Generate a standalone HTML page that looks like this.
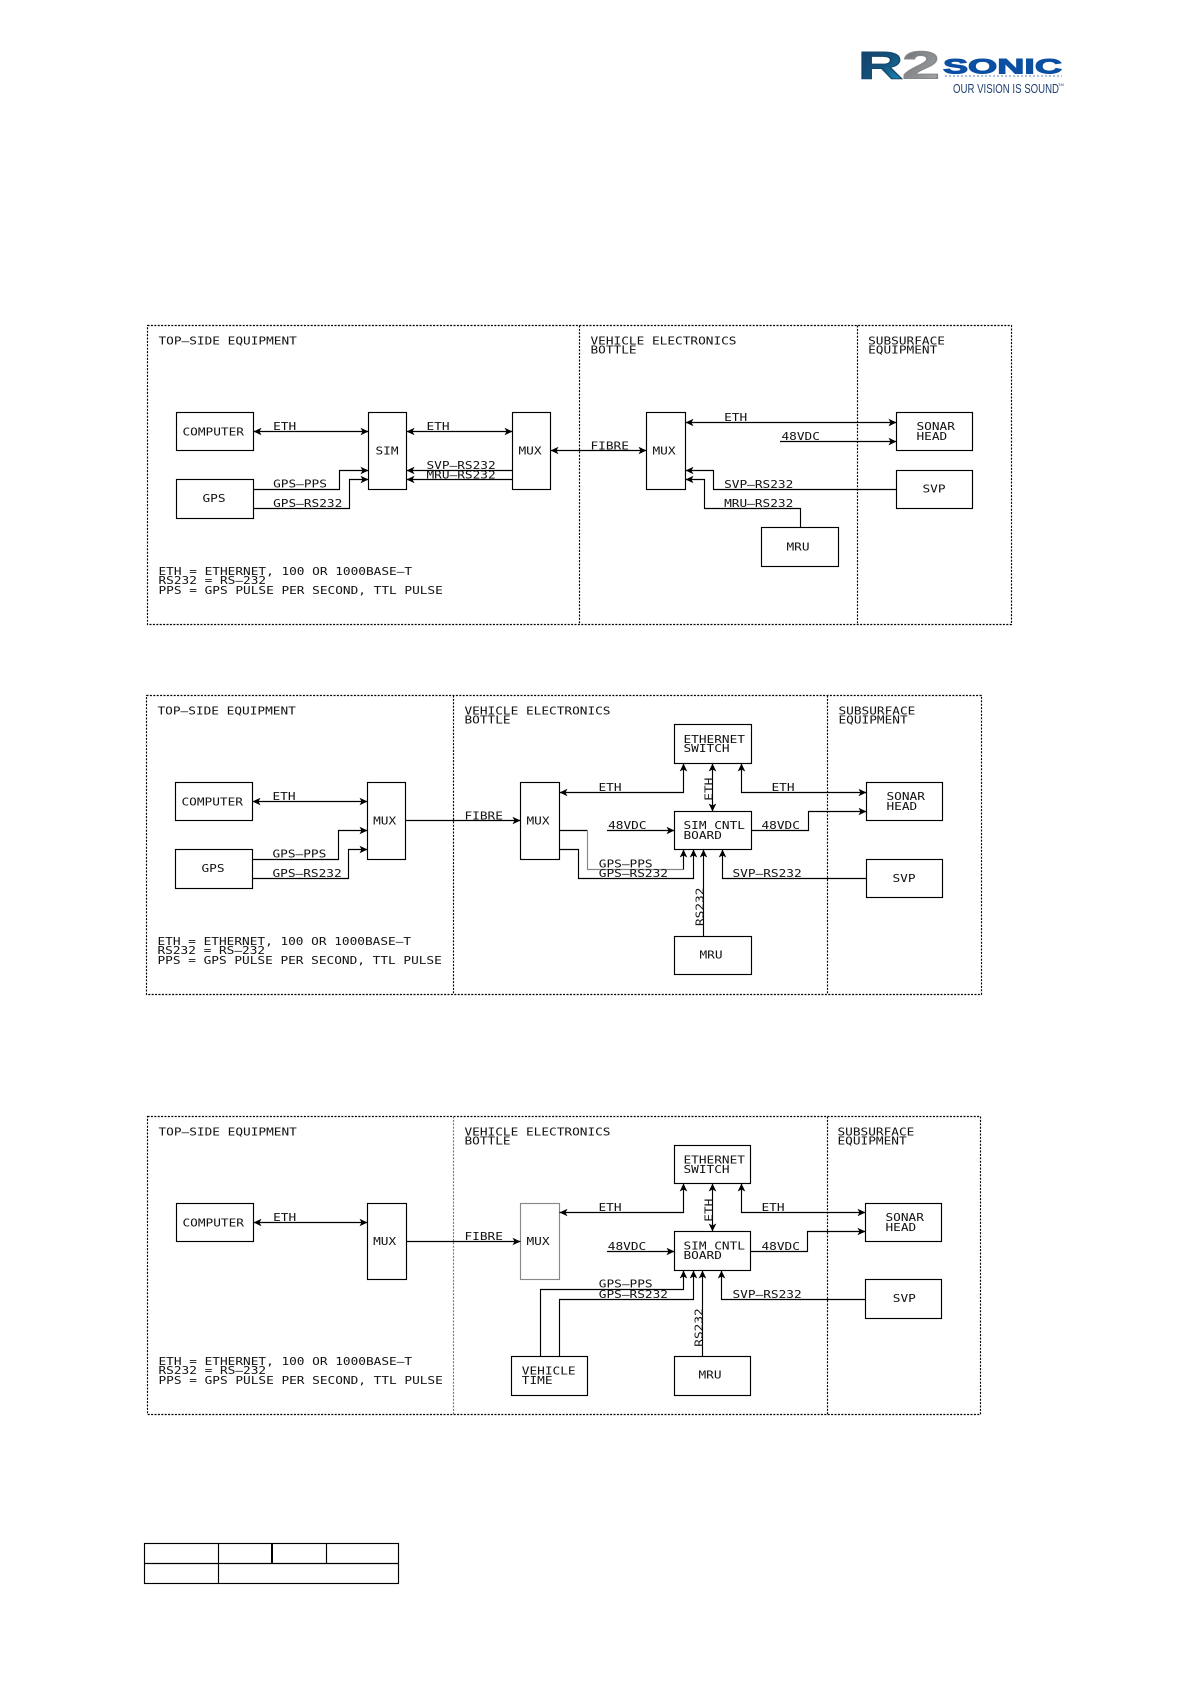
<!DOCTYPE html>
<html lang="en">
<head>
<meta charset="utf-8">
<title>R2Sonic system block diagrams</title>
<style>
html,body{margin:0;padding:0;background:#fff}
svg{display:block}
text{font-family:"DejaVu Sans Mono","Liberation Mono",monospace;font-size:10.3px;fill:#111}
.l{fill:none;stroke:#000;stroke-width:1.15}
.b{fill:#fff;stroke:#000;stroke-width:1.15}
.g{stroke:#888}
.d{fill:none;stroke:#000;stroke-width:1.15;stroke-dasharray:2 1.4}
.dg{stroke:#777}
.a{marker-end:url(#ah)}
.aa{marker-start:url(#ah);marker-end:url(#ah)}
.t{fill:none;stroke:#000;stroke-width:1.15}
</style>
</head>
<body>
<svg xmlns="http://www.w3.org/2000/svg" width="1191" height="1684" viewBox="0 0 1191 1684">
<defs>
<marker id="ah" markerUnits="userSpaceOnUse" markerWidth="12" markerHeight="12" refX="8" refY="6" orient="auto-start-reverse" overflow="visible">
<polygon points="0,2.2 8,6 0,9.8 2,6" fill="#000"/>
</marker>
<linearGradient id="rg" x1="0" y1="0" x2="1" y2="1">
<stop offset="0" stop-color="#123a63"/><stop offset=".55" stop-color="#13557f"/><stop offset="1" stop-color="#1aa0c8"/>
</linearGradient>
<linearGradient id="tg" x1="0" y1="0" x2="1" y2="1">
<stop offset="0" stop-color="#6c6f72"/><stop offset="1" stop-color="#a8aaac"/>
</linearGradient>
</defs>

<!-- Logo -->
<text x="858" y="78.5" textLength="45" lengthAdjust="spacingAndGlyphs" style="font-family:'Liberation Sans',sans-serif;font-weight:700;font-size:38.5px;fill:url(#rg);stroke:#13476f;stroke-width:1">R</text>
<text x="902" y="78.5" textLength="38" lengthAdjust="spacingAndGlyphs" style="font-family:'Liberation Sans',sans-serif;font-weight:700;font-size:38.5px;fill:url(#tg);stroke:#85878a;stroke-width:1">2</text>
<text x="943" y="73.5" textLength="119" lengthAdjust="spacingAndGlyphs" style="font-family:'Liberation Sans',sans-serif;font-weight:700;font-size:21px;fill:#0b4fa3;stroke:#0b4fa3;stroke-width:1">SONIC</text>
<path d="M945 76H1062" stroke="#5b87bd" stroke-width="1" stroke-dasharray="2 2" fill="none"/>
<text x="953" y="93" textLength="106" lengthAdjust="spacingAndGlyphs" style="font-family:'Liberation Sans',sans-serif;font-size:12.6px;fill:#1f3f70">OUR VISION IS SOUND</text>
<text x="1058" y="86" style="font-family:'Liberation Sans',sans-serif;font-size:4px;fill:#1f3f70">TM</text>

<!-- Diagram 1 -->
<rect class="d" x="147.5" y="325.5" width="864" height="299"/>
<path class="d" d="M579.5 325.5V624.5M857.5 325.5V624.5"/>
<rect class="b" x="176.5" y="412.5" width="77" height="38"/>
<rect class="b" x="176.5" y="479.5" width="77" height="39"/>
<rect class="b" x="368.5" y="412.5" width="38" height="77"/>
<rect class="b" x="512.5" y="412.5" width="38" height="77"/>
<rect class="b" x="646.5" y="412.5" width="39" height="77"/>
<rect class="b" x="896.5" y="412.5" width="76" height="38"/>
<rect class="b" x="896.5" y="470.5" width="76" height="38"/>
<rect class="b" x="761.5" y="527.5" width="77" height="39"/>
<path class="l aa" d="M253.5 431.5H368.5"/>
<path class="l aa" d="M406.5 431.5H512.5"/>
<path class="l aa" d="M550.5 450.5H646.5"/>
<path class="l a" d="M512.5 470.5H406.5"/>
<path class="l a" d="M512.5 479.5H406.5"/>
<path class="l a" d="M253.5 489.5H339.5V470.5H368.5"/>
<path class="l a" d="M253.5 508.5H349.5V479.5H368.5"/>
<path class="l aa" d="M685.5 422.5H896.5"/>
<path class="l a" d="M780 441.5H896.5"/>
<path class="l a" d="M896.5 489.5H713.5V470.5H685.5"/>
<path class="l a" d="M800.5 527.5V508.5H704.5V479.5H685.5"/>
<g transform="translate(-.2 0)">
<text transform="translate(158.7 344.3)scale(1.24 1)">TOP—SIDE EQUIPMENT</text>
<text transform="translate(590.7 344.3)scale(1.24 1)">VEHICLE ELECTRONICS</text>
<text transform="translate(590.7 353.3)scale(1.24 1)">BOTTLE</text>
<text transform="translate(868.3 344.3)scale(1.24 1)">SUBSURFACE</text>
<text transform="translate(868.3 353.3)scale(1.24 1)">EQUIPMENT</text>
<text transform="translate(182.7 435.3)scale(1.24 1)">COMPUTER</text>
<text transform="translate(202.7 502)scale(1.24 1)">GPS</text>
<text transform="translate(375.7 454.3)scale(1.24 1)">SIM</text>
<text transform="translate(518.7 454.3)scale(1.24 1)">MUX</text>
<text transform="translate(652.7 454.3)scale(1.24 1)">MUX</text>
<text transform="translate(273.3 430)scale(1.24 1)">ETH</text>
<text transform="translate(426.7 430)scale(1.24 1)">ETH</text>
<text transform="translate(426.7 469)scale(1.24 1)">SVP—RS232</text>
<text transform="translate(426.7 478.3)scale(1.24 1)">MRU—RS232</text>
<text transform="translate(273.3 487.7)scale(1.24 1)">GPS—PPS</text>
<text transform="translate(273.3 507)scale(1.24 1)">GPS—RS232</text>
<text transform="translate(590.7 449.7)scale(1.24 1)">FIBRE</text>
<text transform="translate(724.3 421)scale(1.24 1)">ETH</text>
<text transform="translate(781.7 440)scale(1.24 1)">48VDC</text>
<text transform="translate(724.3 488)scale(1.24 1)">SVP—RS232</text>
<text transform="translate(724.3 507)scale(1.24 1)">MRU—RS232</text>
<text transform="translate(916.7 430)scale(1.24 1)">SONAR</text>
<text transform="translate(916.7 440)scale(1.24 1)">HEAD</text>
<text transform="translate(922.7 492.7)scale(1.24 1)">SVP</text>
<text transform="translate(786.7 550.3)scale(1.24 1)">MRU</text>
<text transform="translate(158.7 575)scale(1.24 1)">ETH = ETHERNET, 100 OR 1000BASE—T</text>
<text transform="translate(158.7 584)scale(1.24 1)">RS232 = RS—232</text>
<text transform="translate(158.7 594)scale(1.24 1)">PPS = GPS PULSE PER SECOND, TTL PULSE</text>
</g>

<!-- Diagram 2 -->
<rect class="d" x="146.5" y="695.5" width="835" height="299"/>
<path class="d" d="M453.5 695.5V994.5M827.5 695.5V994.5"/>
<rect class="b" x="175.5" y="782.5" width="77" height="38"/>
<rect class="b" x="175.5" y="849.5" width="77" height="39"/>
<rect class="b" x="367.5" y="782.5" width="38" height="77"/>
<rect class="b" x="520.5" y="782.5" width="39" height="77"/>
<rect class="b" x="674.5" y="724.5" width="77" height="39"/>
<rect class="b" x="674.5" y="811.5" width="77" height="38"/>
<rect class="b" x="674.5" y="936.5" width="77" height="38"/>
<rect class="b" x="866.5" y="782.5" width="76" height="38"/>
<rect class="b" x="866.5" y="859.5" width="76" height="38"/>
<path class="l aa" d="M252.5 801.5H367.5"/>
<path class="l a" d="M252.5 859.5H338.5V830.5H367.5"/>
<path class="l a" d="M252.5 878.5H348.5V849.5H367.5"/>
<path class="l a" d="M405.5 820.5H520.5"/>
<path class="l" d="M559.5 830.5H587.5"/>
<path class="l g" d="M587.5 830.5V869.5H683.5"/>
<path class="l a" d="M683.5 869.5V849.5"/>
<path class="l a" d="M559.5 849.5H578.5V878.5H693.5V849.5"/>
<path class="l aa" d="M559.5 792.5H683.5V763.5"/>
<path class="l aa" d="M712.5 763.5V811.5"/>
<path class="l aa" d="M741.5 763.5V792.5H866.5"/>
<path class="l a" d="M607 830.5H674.5"/>
<path class="l a" d="M751.5 830.5H808.5V811.5H866.5"/>
<path class="l a" d="M866.5 878.5H722.5V849.5"/>
<path class="l a" d="M703.5 936.5V849.5"/>
<g transform="translate(-.2 0)">
<text transform="translate(157.7 714.3)scale(1.24 1)">TOP—SIDE EQUIPMENT</text>
<text transform="translate(464.7 714.3)scale(1.24 1)">VEHICLE ELECTRONICS</text>
<text transform="translate(464.7 723.3)scale(1.24 1)">BOTTLE</text>
<text transform="translate(838.7 714.3)scale(1.24 1)">SUBSURFACE</text>
<text transform="translate(838.7 723.3)scale(1.24 1)">EQUIPMENT</text>
<text transform="translate(181.7 805.3)scale(1.24 1)">COMPUTER</text>
<text transform="translate(201.7 872)scale(1.24 1)">GPS</text>
<text transform="translate(373.3 824.3)scale(1.24 1)">MUX</text>
<text transform="translate(526.7 824.3)scale(1.24 1)">MUX</text>
<text transform="translate(272.7 800)scale(1.24 1)">ETH</text>
<text transform="translate(272.7 857.7)scale(1.24 1)">GPS—PPS</text>
<text transform="translate(272.7 877)scale(1.24 1)">GPS—RS232</text>
<text transform="translate(464.7 819.7)scale(1.24 1)">FIBRE</text>
<text transform="translate(683.7 743)scale(1.24 1)">ETHERNET</text>
<text transform="translate(683.7 752)scale(1.24 1)">SWITCH</text>
<text transform="translate(683.7 829)scale(1.24 1)">SIM CNTL</text>
<text transform="translate(683.7 839)scale(1.24 1)">BOARD</text>
<text transform="translate(598.7 791)scale(1.24 1)">ETH</text>
<text transform="translate(771.7 791)scale(1.24 1)">ETH</text>
<text transform="translate(712.5 800.7)rotate(-90)scale(1.24 1)">ETH</text>
<text transform="translate(703.5 926)rotate(-90)scale(1.24 1)">RS232</text>
<text transform="translate(608.3 829)scale(1.24 1)">48VDC</text>
<text transform="translate(761.7 829)scale(1.24 1)">48VDC</text>
<text transform="translate(599 867.7)scale(1.24 1)">GPS—PPS</text>
<text transform="translate(599 877)scale(1.24 1)">GPS—RS232</text>
<text transform="translate(732.7 877)scale(1.24 1)">SVP—RS232</text>
<text transform="translate(886.7 800)scale(1.24 1)">SONAR</text>
<text transform="translate(886.7 810)scale(1.24 1)">HEAD</text>
<text transform="translate(892.7 882)scale(1.24 1)">SVP</text>
<text transform="translate(699.7 958.7)scale(1.24 1)">MRU</text>
<text transform="translate(157.7 945)scale(1.24 1)">ETH = ETHERNET, 100 OR 1000BASE—T</text>
<text transform="translate(157.7 954)scale(1.24 1)">RS232 = RS—232</text>
<text transform="translate(157.7 964)scale(1.24 1)">PPS = GPS PULSE PER SECOND, TTL PULSE</text>
</g>

<!-- Diagram 3 -->
<rect class="d" x="147.5" y="1116.5" width="833" height="298"/>
<path class="d dg" d="M453.5 1116.5V1414.5"/>
<path class="d" d="M827.5 1116.5V1414.5"/>
<rect class="b" x="176.5" y="1203.5" width="77" height="38"/>
<rect class="b" x="367.5" y="1203.5" width="39" height="76"/>
<rect class="b g" x="520.5" y="1203.5" width="39" height="76"/>
<rect class="b" x="511.5" y="1356.5" width="76" height="39"/>
<rect class="b" x="674.5" y="1145.5" width="76" height="38"/>
<rect class="b" x="674.5" y="1231.5" width="76" height="39"/>
<rect class="b" x="674.5" y="1356.5" width="76" height="39"/>
<rect class="b" x="865.5" y="1203.5" width="76" height="38"/>
<rect class="b" x="865.5" y="1279.5" width="76" height="39"/>
<path class="l aa" d="M253.5 1222.5H367.5"/>
<path class="l a" d="M406.5 1241.5H520.5"/>
<path class="l a" d="M540.5 1356.5V1289.5H683.5V1270.5"/>
<path class="l a" d="M559.5 1356.5V1299.5H693.5V1270.5"/>
<path class="l aa" d="M559.5 1212.5H683.5V1183.5"/>
<path class="l aa" d="M712.5 1183.5V1231.5"/>
<path class="l aa" d="M741.5 1183.5V1212.5H865.5"/>
<path class="l a" d="M607 1251.5H674.5"/>
<path class="l a" d="M750.5 1251.5H807.5V1231.5H865.5"/>
<path class="l a" d="M865.5 1299.5H721.5V1270.5"/>
<path class="l a" d="M702.5 1356.5V1270.5"/>
<g transform="translate(-.2 0)">
<text transform="translate(158.7 1135.3)scale(1.24 1)">TOP—SIDE EQUIPMENT</text>
<text transform="translate(464.7 1135.3)scale(1.24 1)">VEHICLE ELECTRONICS</text>
<text transform="translate(464.7 1144.3)scale(1.24 1)">BOTTLE</text>
<text transform="translate(837.7 1135.3)scale(1.24 1)">SUBSURFACE</text>
<text transform="translate(837.7 1144.3)scale(1.24 1)">EQUIPMENT</text>
<text transform="translate(182.7 1226.3)scale(1.24 1)">COMPUTER</text>
<text transform="translate(373.3 1245)scale(1.24 1)">MUX</text>
<text transform="translate(526.7 1245)scale(1.24 1)">MUX</text>
<text transform="translate(273.3 1221)scale(1.24 1)">ETH</text>
<text transform="translate(464.7 1240)scale(1.24 1)">FIBRE</text>
<text transform="translate(522 1374.3)scale(1.24 1)">VEHICLE</text>
<text transform="translate(522 1384)scale(1.24 1)">TIME</text>
<text transform="translate(683.7 1163.7)scale(1.24 1)">ETHERNET</text>
<text transform="translate(683.7 1173)scale(1.24 1)">SWITCH</text>
<text transform="translate(683.7 1249.7)scale(1.24 1)">SIM CNTL</text>
<text transform="translate(683.7 1259)scale(1.24 1)">BOARD</text>
<text transform="translate(598.7 1211)scale(1.24 1)">ETH</text>
<text transform="translate(761.7 1211)scale(1.24 1)">ETH</text>
<text transform="translate(712.5 1221.7)rotate(-90)scale(1.24 1)">ETH</text>
<text transform="translate(702.5 1346.7)rotate(-90)scale(1.24 1)">RS232</text>
<text transform="translate(608 1250)scale(1.24 1)">48VDC</text>
<text transform="translate(761.7 1250)scale(1.24 1)">48VDC</text>
<text transform="translate(599 1287.7)scale(1.24 1)">GPS—PPS</text>
<text transform="translate(599 1298)scale(1.24 1)">GPS—RS232</text>
<text transform="translate(732.7 1298)scale(1.24 1)">SVP—RS232</text>
<text transform="translate(885.7 1221)scale(1.24 1)">SONAR</text>
<text transform="translate(885.7 1231)scale(1.24 1)">HEAD</text>
<text transform="translate(893 1302)scale(1.24 1)">SVP</text>
<text transform="translate(698.7 1378.7)scale(1.24 1)">MRU</text>
<text transform="translate(158.7 1365)scale(1.24 1)">ETH = ETHERNET, 100 OR 1000BASE—T</text>
<text transform="translate(158.7 1374)scale(1.24 1)">RS232 = RS—232</text>
<text transform="translate(158.7 1384)scale(1.24 1)">PPS = GPS PULSE PER SECOND, TTL PULSE</text>
</g>

<!-- Table -->
<rect class="t" x="144.5" y="1543.5" width="254" height="40"/>
<path class="t" d="M144.5 1563.5H398.5M218.5 1543.5V1583.5M326.5 1543.5V1563.5"/>
<path d="M272 1543.5V1563.5" stroke="#000" stroke-width="2" fill="none"/>
</svg>
</body>
</html>
